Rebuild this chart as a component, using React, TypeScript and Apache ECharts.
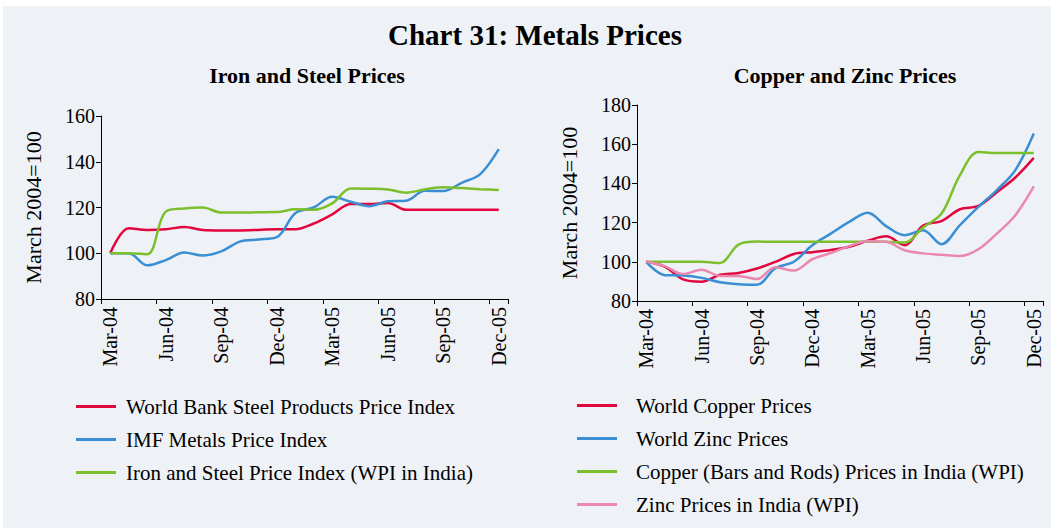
import React, { useEffect, useRef } from "react";
import * as echarts from "echarts";

const months = [
  "Mar-04", "Apr-04", "May-04", "Jun-04", "Jul-04", "Aug-04", "Sep-04", "Oct-04", "Nov-04", "Dec-04",
  "Jan-05", "Feb-05", "Mar-05", "Apr-05", "May-05", "Jun-05", "Jul-05", "Aug-05", "Sep-05", "Oct-05",
  "Nov-05", "Dec-05",
];

const wbSteel = [100, 110.9, 110.2, 110.5, 111.5, 110.2, 110, 110, 110.2, 110.5, 110.5, 113, 117, 121.5, 121.5, 122, 119, 119, 119, 119, 119, 119];
const imfMetals = [100, 100, 94.7, 97, 100.3, 99, 100.8, 105.1, 106, 107, 117.5, 120, 124.7, 122.5, 120.6, 122.7, 123, 127.3, 127.2, 130.8, 134.6, 145.5];
const ironSteelWpi = [100, 100, 99.6, 118.2, 119.6, 120, 117.8, 117.8, 117.9, 118, 119.2, 119, 121.8, 128.3, 128.2, 127.9, 126.5, 127.9, 128.8, 128.5, 128, 127.6];

const copperWorld = [100, 97.5, 91, 89.8, 93.4, 94.3, 96.6, 100, 104, 104.9, 106, 107.7, 110.7, 113, 108.5, 118.5, 120.8, 126.8, 128.5, 135.5, 143, 153];
const zincWorld = [100, 93.2, 93, 91.8, 89.6, 88.6, 88.3, 96.8, 100, 108.5, 114.4, 120.4, 125, 118.2, 113.6, 116.1, 109, 118.7, 128, 136.6, 146.8, 165.5];
const copperIndia = [100, 100, 100, 100, 99.4, 108.8, 110.3, 110.2, 110.2, 110.2, 110.2, 110.2, 110.2, 110.2, 109.8, 117.5, 124.6, 144.2, 156, 155.5, 155.5, 155.5];
const zincIndia = [100, 97.8, 93.8, 96, 92.8, 92.8, 91.2, 97.2, 95.5, 101.3, 104.5, 108, 110.5, 110.2, 105.9, 104.3, 103.6, 103, 106.4, 114.4, 123.8, 138.5];

const leftNames = [
  "World Bank Steel Products Price Index",
  "IMF Metals Price Index",
  "Iron and Steel Price Index (WPI in India)",
];
const rightNames = [
  "World Copper Prices",
  "World Zinc Prices",
  "Copper (Bars and Rods) Prices in India (WPI)",
  "Zinc Prices in India (WPI)",
];

const RED = "#E2063F";
const BLUE = "#3A8ED4";
const GREEN = "#7CBF2C";
const PINK = "#EA88B0";
const FONT = "'Liberation Serif', 'Times New Roman', serif";

export default function App() {
  const ref = useRef<HTMLDivElement>(null);
  useEffect(() => {
    if (!ref.current) return;
    const chart = echarts.init(ref.current, null, { renderer: "svg" });

    const xAxisBase = (gridIndex: number) => ({
      type: "category",
      gridIndex,
      data: months,
      boundaryGap: true,
      axisLine: { lineStyle: { color: "#000", width: 1 } },
      axisTick: { show: true, interval: 2, length: 5, lineStyle: { color: "#000" } },
      axisLabel: {
        interval: 2,
        rotate: 90,
        margin: 8,
        color: "#000",
        fontFamily: FONT,
        fontSize: 20,
      },
      splitLine: { show: false },
    });

    const yAxisBase = (gridIndex: number, min: number, max: number) => ({
      type: "value",
      gridIndex,
      min,
      max,
      interval: 20,
      name: "March 2004=100",
      nameLocation: "middle",
      nameGap: 57,
      nameTextStyle: { color: "#000", fontFamily: FONT, fontSize: 22 },
      axisLine: { show: true, lineStyle: { color: "#000", width: 1 } },
      axisTick: { show: true, length: 5, lineStyle: { color: "#000" } },
      axisLabel: { color: "#000", fontFamily: FONT, fontSize: 20, margin: 6 },
      splitLine: { show: false },
    });

    const line = (name: string, data: number[], color: string, idx: number) => ({
      type: "line",
      name,
      data,
      xAxisIndex: idx,
      yAxisIndex: idx,
      smooth: 0.35,
      symbol: "none",
      lineStyle: { color, width: 2.5 },
      itemStyle: { color },
    });

    const legendBase = {
      orient: "vertical",
      icon: "rect",
      itemWidth: 40,
      itemHeight: 3,
      itemGap: 12,
      padding: 0,
      height: 200,
      selectedMode: false,
    };

    chart.setOption({
      animation: false,
      backgroundColor: "#ffffff",
      graphic: [
        {
          type: "rect",
          z: -100,
          silent: true,
          shape: { x: 3, y: 6, width: 1048, height: 522 },
          style: { fill: "#EEF2F6" },
        },
      ],
      title: [
        {
          text: "Chart 31: Metals Prices",
          left: 530,
          top: 15,
          textAlign: "center",
          textStyle: { fontFamily: FONT, fontSize: 29, fontWeight: "bold", color: "#000" },
        },
        {
          text: "Iron and Steel Prices",
          left: 302,
          top: 59,
          textAlign: "center",
          textStyle: { fontFamily: FONT, fontSize: 22, fontWeight: "bold", color: "#000" },
        },
        {
          text: "Copper and Zinc Prices",
          left: 840,
          top: 59,
          textAlign: "center",
          textStyle: { fontFamily: FONT, fontSize: 22, fontWeight: "bold", color: "#000" },
        },
      ],
      grid: [
        { left: 101, top: 116, width: 407, height: 183 },
        { left: 637, top: 105, width: 406, height: 196 },
      ],
      xAxis: [xAxisBase(0), xAxisBase(1)],
      yAxis: [yAxisBase(0, 80, 160), yAxisBase(1, 80, 180)],
      legend: [
        {
          ...legendBase,
          data: leftNames,
          left: 76,
          top: 396,
          textStyle: { fontFamily: FONT, fontSize: 21, color: "#000", padding: [0, 0, 0, 5] },
        },
        {
          ...legendBase,
          data: rightNames,
          left: 577,
          top: 395,
          textStyle: { fontFamily: FONT, fontSize: 21, color: "#000", padding: [0, 0, 0, 14] },
        },
      ],
      series: [
        line(leftNames[0], wbSteel, RED, 0),
        line(leftNames[1], imfMetals, BLUE, 0),
        line(leftNames[2], ironSteelWpi, GREEN, 0),
        line(rightNames[0], copperWorld, RED, 1),
        line(rightNames[1], zincWorld, BLUE, 1),
        line(rightNames[2], copperIndia, GREEN, 1),
        line(rightNames[3], zincIndia, PINK, 1),
      ],
    });
    return () => chart.dispose();
  }, []);

  return (
    <div
      ref={ref}
      style={{ position: "fixed", left: 0, top: 0, width: 1051, height: 528 }}
    />
  );
}
